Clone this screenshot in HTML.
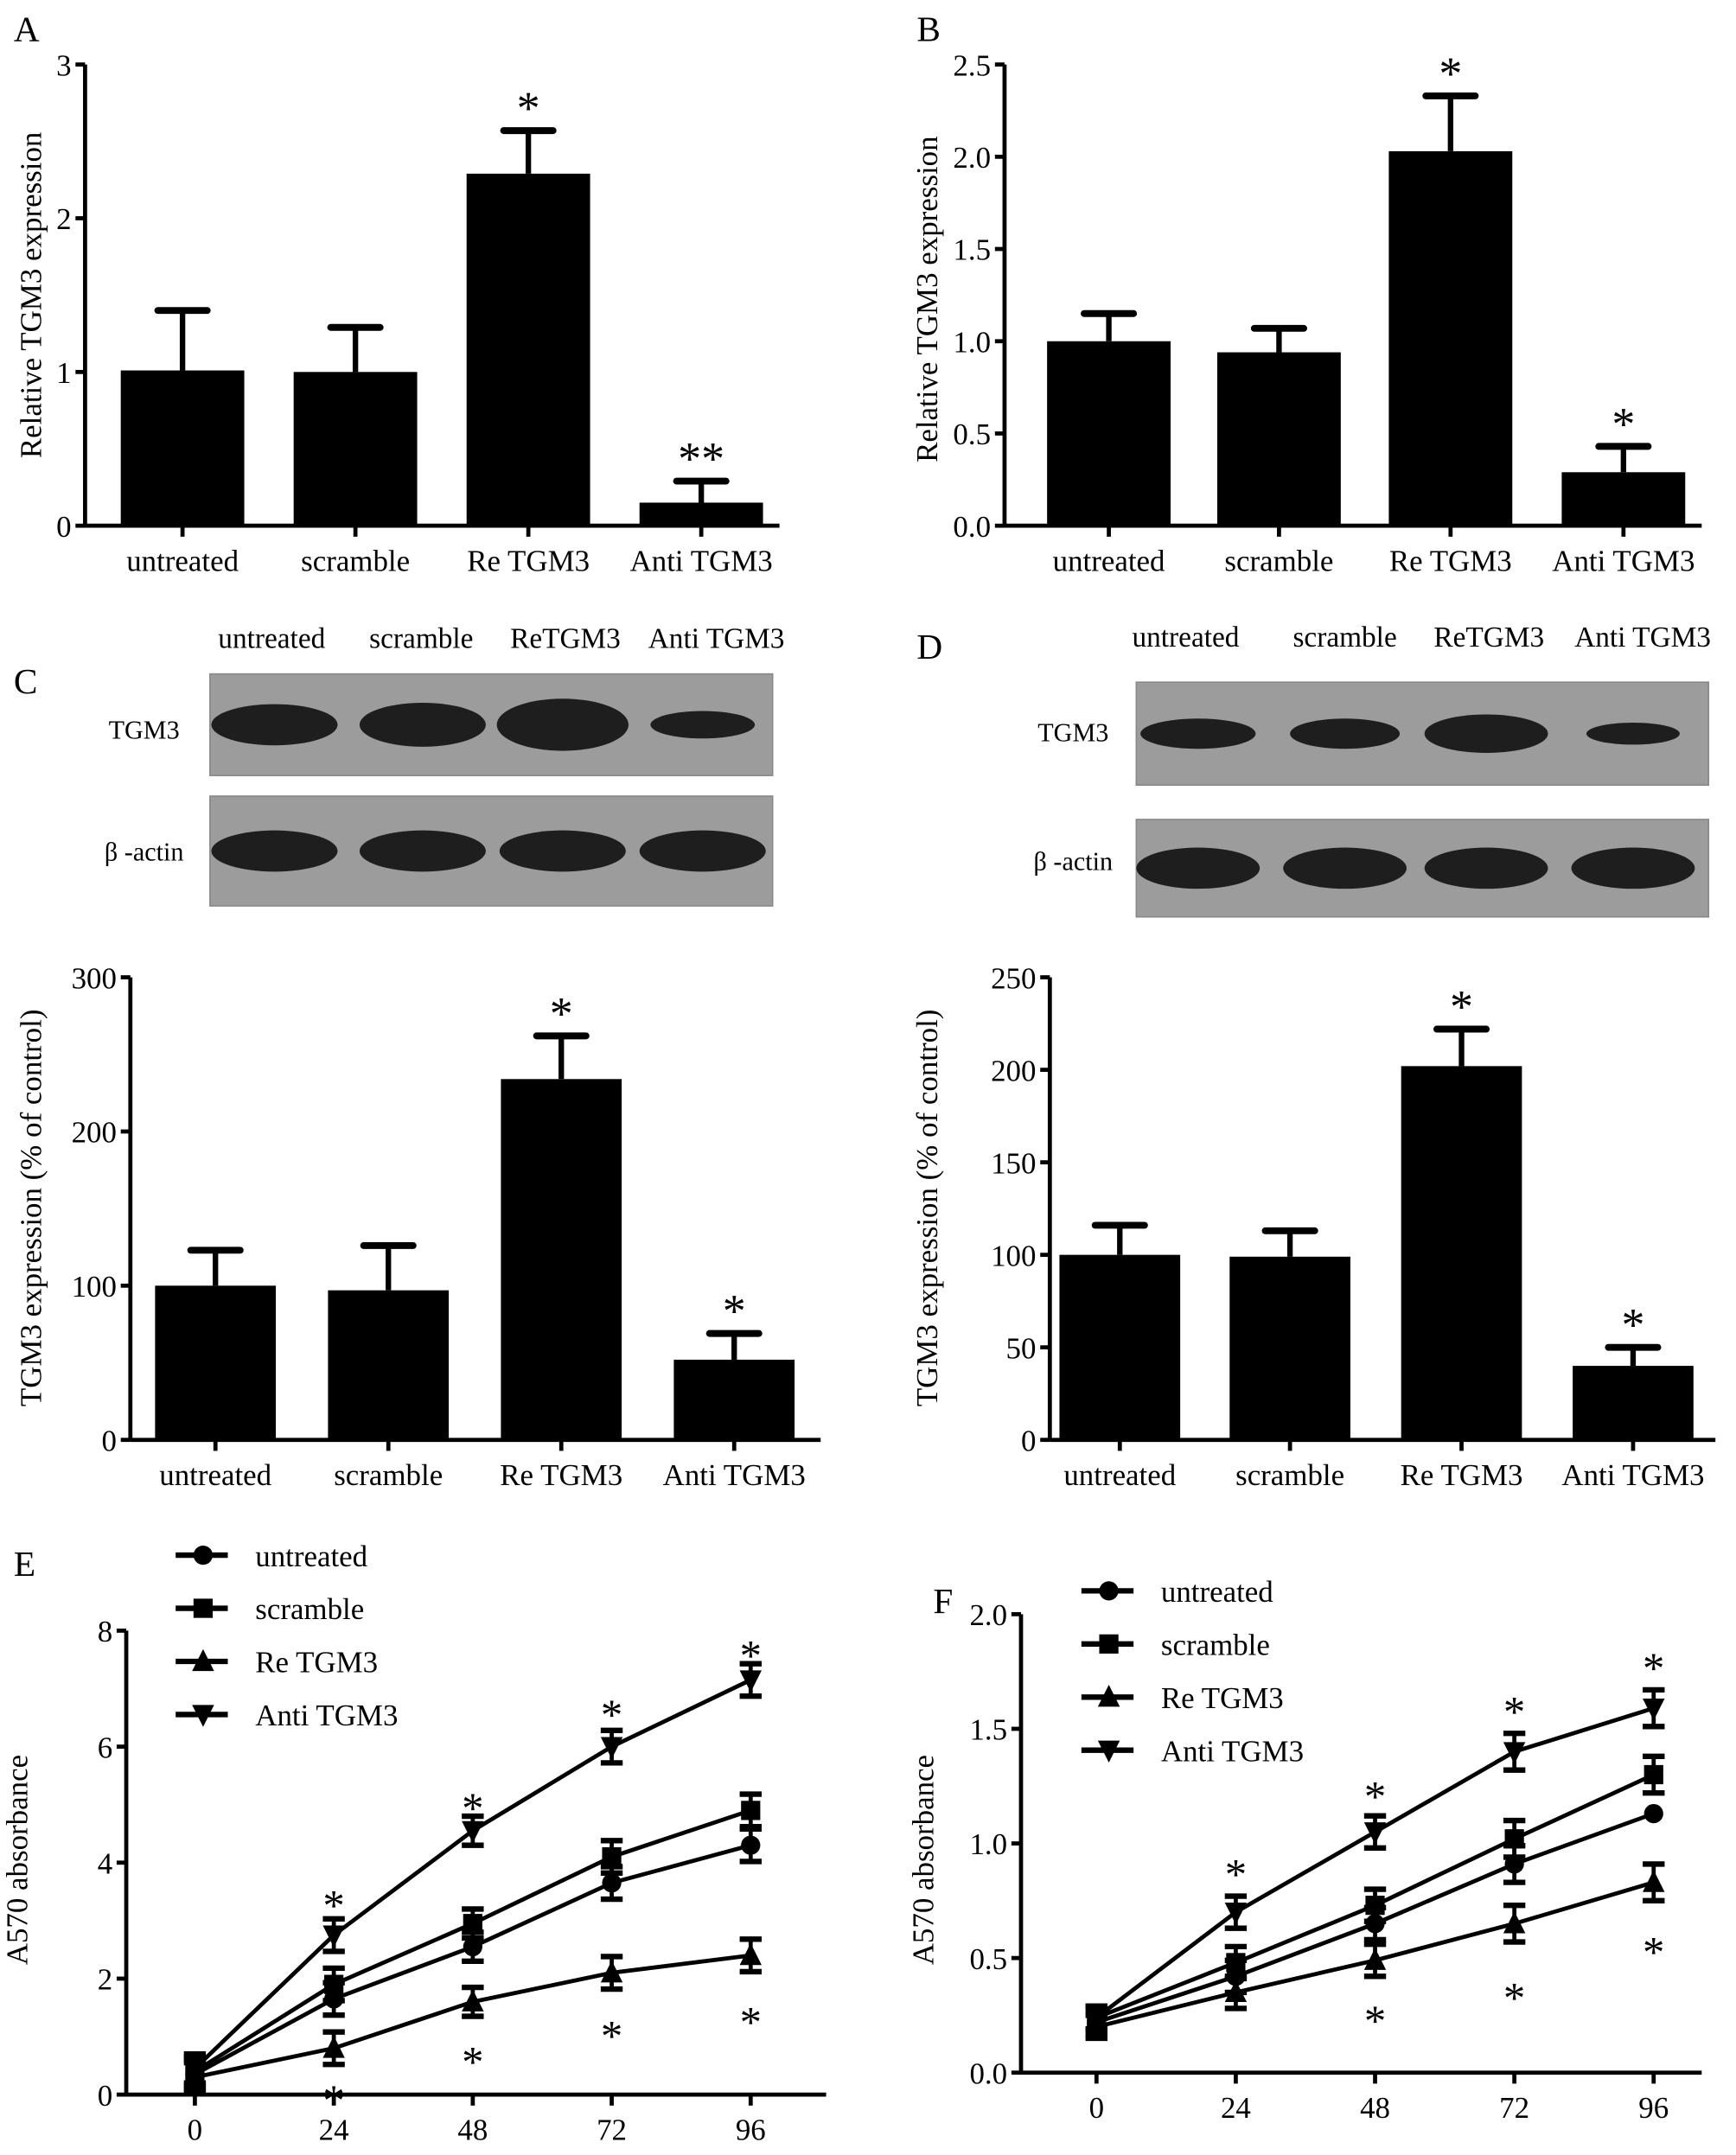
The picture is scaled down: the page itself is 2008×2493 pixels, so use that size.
<!DOCTYPE html>
<html><head><meta charset="utf-8">
<style>
html,body{margin:0;padding:0;background:#fff;}
svg{display:block;font-family:"Liberation Serif",serif;}
</style></head>
<body>
<svg id="fig" width="2008" height="2493" viewBox="0 0 1265 1570" preserveAspectRatio="none" xmlns="http://www.w3.org/2000/svg"></svg>
<script>
// ---- data ----
const barCategories = ["untreated","scramble","Re TGM3","Anti TGM3"];
const aValues = [1.01, 1.0, 2.29, 0.15];
const aErrors = [1.40, 1.29, 2.57, 0.29];
const aStars = ["", "", "*", "**"];
const aTicks = [0,1,2,3];
const bValues = [1.0, 0.94, 2.03, 0.29];
const bErrors = [1.15, 1.07, 2.33, 0.43];
const bStars = ["", "", "*", "*"];
const bTicks = [0,0.5,1,1.5,2,2.5];
const cValues = [100, 97, 234, 52];
const cErrors = [123, 126, 262, 69];
const cStars = ["", "", "*", "*"];
const cTicks = [0,100,200,300];
const dValues = [100, 99, 202, 40];
const dErrors = [116, 113, 222, 50];
const dStars = ["", "", "*", "*"];
const dTicks = [0,50,100,150,200,250];
const timePoints = [0,24,48,72,96];
const seriesNames = ["untreated","scramble","Re TGM3","Anti TGM3"];
const eUntreated = [0.35,1.65,2.55,3.65,4.30];
const eScramble = [0.40,1.90,2.95,4.10,4.90];
const eRe = [0.30,0.80,1.60,2.10,2.40];
const eAnti = [0.45,2.75,4.55,6.00,7.15];
const eErr = [0.25,0.28,0.25,0.28,0.28];
const eTicks = [0,2,4,6,8];
const eStarsAbove = [null,3.36,5.04,6.65,7.67];
const eStarsBelow = [null,0.0,0.66,1.11,1.35];
const fUntreated = [0.22,0.42,0.65,0.91,1.13];
const fScramble = [0.24,0.48,0.73,1.02,1.30];
const fRe = [0.20,0.35,0.49,0.65,0.83];
const fAnti = [0.24,0.70,1.05,1.40,1.59];
const fErr = [0.05,0.07,0.07,0.08,0.08];
const fTicks = [0,0.5,1,1.5,2];
const fStarsAbove = [null,0.89,1.23,1.60,1.79];
const fStarsBelow = [null,null,0.25,0.35,0.55];

const NS="http://www.w3.org/2000/svg";
const svg=document.getElementById('fig');
function mk(tag,attrs,parent){const e=document.createElementNS(NS,tag);for(const k in attrs)e.setAttribute(k,attrs[k]);(parent||svg).appendChild(e);return e;}
function txt(s,x,y,size,anchor,parent,rot){const t=mk('text',{x:x,y:y,'font-size':size,'text-anchor':anchor||'middle',fill:'#000'},parent);if(rot)t.setAttribute('transform','rotate(-90 '+x+' '+y+')');t.textContent=s;return t;}

function barChart(name,label,lx,ly,ax,y0,y1,vmax,ticks,tickFmt,centers,bw,xEnd,vals,errs,stars,ytitle,tx,ty){
  const g=mk('g',{});
  
  
  const yS=v=>y0-(v/vmax)*(y0-y1);
  const pl=txt(label,lx,ly,26,'start',g);
  
  
  const yl=txt(ytitle,tx,ty,22,'middle',g,true);
  
  
  mk('line',{x1:ax,y1:y1,x2:ax,y2:y0,stroke:'#000','stroke-width':3},g);
  mk('line',{x1:ax,y1:y0,x2:xEnd,y2:y0,stroke:'#000','stroke-width':3},g);
  ticks.forEach(t=>{const y=yS(t);mk('line',{x1:ax-7,y1:y,x2:ax,y2:y,stroke:'#000','stroke-width':3},g);
    const tl=txt(tickFmt(t),ax-10,y+8,22,'end',g);
    
    });
  vals.forEach((v,i)=>{const cx=centers[i];
    const b=mk('rect',{x:cx-bw/2,y:yS(v),width:bw,height:y0-yS(v),fill:'#000'},g);
    
    
    mk('line',{x1:cx,y1:yS(v),x2:cx,y2:yS(errs[i]),stroke:'#000','stroke-width':4},g);
    mk('line',{x1:cx-18,y1:yS(errs[i]),x2:cx+18,y2:yS(errs[i]),stroke:'#000','stroke-width':5,'stroke-linecap':'round'},g);
    mk('line',{x1:cx,y1:y0,x2:cx,y2:y0+8,stroke:'#000','stroke-width':3},g);
    const cl=txt(barCategories[i],cx,y0+33,22,'middle',g);
    
    
    if(stars[i]){const s=txt(stars[i],cx,yS(errs[i])-5,34,'middle',g);
      
      }
  });
}
barChart('chart-a','A',10,30,62,383,47,3,aTicks,t=>String(t),[133,259,385,511],90,568,aValues,aErrors,aStars,'Relative TGM3 expression',30,215);
barChart('chart-b','B',668,30,732,383,47,2.5,bTicks,t=>t.toFixed(1),[808,932,1057,1183],90,1240,bValues,bErrors,bStars,'Relative TGM3 expression',683,218);
barChart('chart-c','C',10,505,95,1049,712,300,cTicks,t=>String(t),[157,283,409,535],88,598,cValues,cErrors,cStars,'TGM3 expression (% of control)',30,880);
barChart('chart-d','D',668,480,765,1049,712,250,dTicks,t=>String(t),[816,940,1065,1190],88,1250,dValues,dErrors,dStars,'TGM3 expression (% of control)',683,880);

function blot(name,bx,by1,bh1,by2,bh2,bw,centers,labelY,labelXs,tgmW,actW,tgmH,leftX,t1y,t2y){
  const g=mk('g',{});
  
  
  mk('rect',{x:bx,y:by1,width:bw,height:bh1,fill:'#9c9c9c',stroke:'#888'},g);
  mk('rect',{x:bx,y:by2,width:bw,height:bh2,fill:'#9c9c9c',stroke:'#888'},g);
  centers.forEach((c,i)=>{
    mk('ellipse',{cx:c,cy:by1+bh1/2,rx:tgmW[i],ry:tgmH[i],fill:'#1e1e1e'},g);
    mk('ellipse',{cx:c,cy:by2+bh2/2,rx:actW,ry:15,fill:'#1e1e1e'},g);
    const l=txt(barCategories[i].replace('Re ','Re'),labelXs[i],labelY,21,'middle',g);
    
    
  });
  txt('TGM3',leftX,t1y,19,'middle',g);
  txt('β -actin',leftX,t2y,19,'middle',g);
}
blot('blot-c',153,491,74,580,80,410,[200,308,410,512],472,[198,307,412,522],[46,46,48,38],46,[15,16,19,10],105,538,627);
blot('blot-d',828,497,75,597,71,417,[873,980,1083,1190],471,[864,980,1085,1197],[42,40,45,34],45,[11,11,14,8],782,540,634);

function lineChart(name,label,lx,ly,ax,y0,y1,vmax,ticks,tickFmt,xs,xEnd,series,err,legX,legY,aboveStars,belowStars,tx,ty){
  const g=mk('g',{});
  
  
  const yS=v=>y0-(v/vmax)*(y0-y1);
  const xS=t=>xs[0]+(t/96)*(xs[1]-xs[0]);
  const pl=txt(label,lx,ly,26,'start',g);
  
  
  const yl=txt('A570 absorbance',tx,ty,22,'middle',g,true);
  
  
  mk('line',{x1:ax,y1:y1,x2:ax,y2:y0,stroke:'#000','stroke-width':3},g);
  mk('line',{x1:ax,y1:y0,x2:xEnd,y2:y0,stroke:'#000','stroke-width':3},g);
  ticks.forEach(t=>{const y=yS(t);mk('line',{x1:ax-7,y1:y,x2:ax,y2:y,stroke:'#000','stroke-width':3},g);
    const tl=txt(tickFmt(t),ax-10,y+8,22,'end',g);
    
    });
  timePoints.forEach(t=>{const x=xS(t);mk('line',{x1:x,y1:y0,x2:x,y2:y0+8,stroke:'#000','stroke-width':3},g);
    const xl=txt(String(t),x,y0+33,22,'middle',g);
    
    });
  function marker(k,x,y,par){
    if(k===0)mk('circle',{cx:x,cy:y,r:7,fill:'#000'},par);
    else if(k===1)mk('rect',{x:x-7,y:y-7,width:14,height:14,fill:'#000'},par);
    else if(k===2)mk('polygon',{points:(x-8)+','+(y+7)+' '+(x+8)+','+(y+7)+' '+x+','+(y-9),fill:'#000'},par);
    else mk('polygon',{points:(x-8)+','+(y-7)+' '+(x+8)+','+(y-7)+' '+x+','+(y+9),fill:'#000'},par);
  }
  series.forEach((s,k)=>{
    const sg=mk('g',{},g);
    
    
    const pts=s.map((v,i)=>xS(timePoints[i])+','+yS(v)).join(' ');
    mk('polyline',{points:pts,fill:'none',stroke:'#000','stroke-width':3},sg);
    s.forEach((v,i)=>{const x=xS(timePoints[i]);
      const e=(k===0&&i===4&&vmax<3)?0:err[i];
      if(e>0){mk('line',{x1:x,y1:yS(v-e),x2:x,y2:yS(v+e),stroke:'#000','stroke-width':3},sg);
      mk('line',{x1:x-8,y1:yS(v+e),x2:x+8,y2:yS(v+e),stroke:'#000','stroke-width':4},sg);
      mk('line',{x1:x-8,y1:yS(v-e),x2:x+8,y2:yS(v-e),stroke:'#000','stroke-width':4},sg);}
      marker(k,x,yS(v),sg);});
    const le=mk('g',{},g);
    
    
    const ly2=legY+k*38.7;
    mk('line',{x1:legX-20,y1:ly2,x2:legX+18,y2:ly2,stroke:'#000','stroke-width':4},le);
    marker(k,legX,ly2,le);
    txt(seriesNames[k],legX+38,ly2+8,22,'start',le);
  });
  aboveStars.concat(belowStars).forEach((v,j)=>{if(v===null)return;const i=j%5;
    const s=txt('*',xS(timePoints[i]),yS(v)+15,32,'middle',g);
    
    });
}
lineChart('chart-e','E',10,1148,92,1526,1188,8,eTicks,t=>String(t),[142,547],602,[eUntreated,eScramble,eRe,eAnti],eErr,148,1133,
  eStarsAbove,eStarsBelow,20,1355);
lineChart('chart-f','F',680,1175,744,1510,1176,2,fTicks,t=>t.toFixed(1),[799,1205],1240,[fUntreated,fScramble,fRe,fAnti],fErr,808,1159,
  fStarsAbove,fStarsBelow,680,1355);
</script>
</body></html>
